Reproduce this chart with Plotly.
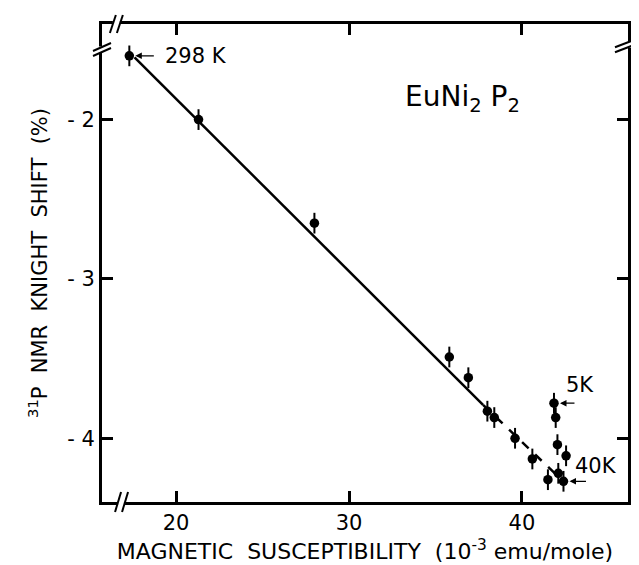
import plotly.graph_objects as go

# ---- data ----
chi = [17.3, 21.3, 28.0, 35.8, 36.9, 38.0, 38.4, 39.6, 40.6, 41.5, 42.1, 42.4,
       41.85, 41.95, 42.05, 42.55]
shift = [-1.60, -2.00, -2.65, -3.49, -3.62, -3.83, -3.87, -4.00, -4.13, -4.26, -4.22, -4.27,
         -3.78, -3.87, -4.04, -4.11]
shift_err = [0.065] * len(chi)

fit_x_solid = [17.6, 37.75]
fit_y_solid = [-1.61, -3.79]
fit_x_dash = [37.75, 41.9]
fit_y_dash = [-3.79, -4.22]

x_ticks = [20, 30, 40]
y_ticks = [-4, -3, -2]
y_ticktext = ["- 4", "- 3", "- 2"]
x_range = [15.72, 46.13]
y_range = [-4.40, -1.40]

FONT = "DejaVu Sans"

fig = go.Figure()
fig.add_trace(go.Scatter(x=fit_x_solid, y=fit_y_solid, mode="lines",
                         line=dict(color="black", width=2.5), hoverinfo="skip"))
fig.add_trace(go.Scatter(x=fit_x_dash, y=fit_y_dash, mode="lines",
                         line=dict(color="black", width=2.5, dash="dash"), hoverinfo="skip"))
fig.add_trace(go.Scatter(x=chi, y=shift, mode="markers",
                         marker=dict(color="black", size=9.5),
                         error_y=dict(type="data", array=shift_err, color="black",
                                      thickness=2, width=0)))


def brk(xanchor, yanchor, dx, dy, sep_x, sep_y, xref="x", yref="y"):
    fig.add_shape(type="rect", xref=xref, yref=yref, xsizemode="pixel", ysizemode="pixel",
                  xanchor=xanchor, yanchor=yanchor,
                  x0=-max(sep_x / 2, 3), x1=max(sep_x / 2, 3),
                  y0=-max(sep_y / 2, 3), y1=max(sep_y / 2, 3),
                  fillcolor="white", line=dict(width=0))
    for s in (-1, 1):
        fig.add_shape(type="line", xref=xref, yref=yref, xsizemode="pixel", ysizemode="pixel",
                      xanchor=xanchor, yanchor=yanchor,
                      x0=-dx + s * sep_x / 2, x1=dx + s * sep_x / 2,
                      y0=-dy + s * sep_y / 2, y1=dy + s * sep_y / 2,
                      line=dict(color="black", width=2))


# axis break marks
brk(16.85, 0, 3, 10, 7, 0, yref="paper")      # bottom
brk(16.55, 1, 3, 9, 7, 0, yref="paper")       # top
brk(0, -1.56, 9, 4, 0, 5, xref="paper")       # left
brk(1, -1.53, 13, 5, 0, 5, xref="paper")      # right

ann_font = dict(family=FONT, size=21, color="black")
for (xa, ya, axp) in [(chi[0], shift[0], 26), (chi[12], shift[12], 22), (chi[11], shift[11], 24)]:
    fig.add_annotation(x=xa, y=ya, ax=axp, ay=0, axref="pixel", ayref="pixel", text="",
                       showarrow=True, arrowhead=2, arrowsize=1, arrowwidth=1.3,
                       arrowcolor="black", standoff=6)
fig.add_annotation(x=chi[0], y=shift[0], xshift=34, text="298 K", showarrow=False,
                   xanchor="left", font=ann_font)
fig.add_annotation(x=chi[12], y=shift[12], xshift=10, yshift=18, text="5K", showarrow=False,
                   xanchor="left", font=ann_font)
fig.add_annotation(x=chi[11], y=shift[11], xshift=10, yshift=15, text="40K", showarrow=False,
                   xanchor="left", font=ann_font)
fig.add_annotation(x=33.1, y=-1.87, text="EuNi<sub>2</sub> P<sub>2</sub>", showarrow=False,
                   xanchor="left", font=dict(family=FONT, size=28, color="black"))

axis_common = dict(showline=True, linecolor="black", linewidth=3, mirror="ticks",
                   ticks="inside", ticklen=11, tickwidth=2.5, tickcolor="black",
                   showgrid=False, zeroline=False,
                   tickfont=dict(family=FONT, size=21, color="black"))
fig.update_xaxes(range=x_range, tickvals=x_ticks, **axis_common,
                 title=dict(text="MAGNETIC\u00a0\u00a0SUSCEPTIBILITY\u00a0\u00a0(10<sup>-3</sup>\u00a0emu/mole)",
                            font=dict(family=FONT, size=22, color="black"), standoff=10))
fig.update_yaxes(range=y_range, tickvals=y_ticks, ticktext=y_ticktext, **axis_common,
                 title=dict(text="<sup>31</sup>P\u00a0\u00a0NMR\u00a0\u00a0KNIGHT\u00a0\u00a0SHIFT\u00a0\u00a0(%)",
                            font=dict(family=FONT, size=21, color="black"), standoff=14))
fig.update_layout(width=639, height=565, margin=dict(l=94, r=19, t=16, b=67),
                  plot_bgcolor="white", paper_bgcolor="white", showlegend=False)
fig.write_html("out.html")
